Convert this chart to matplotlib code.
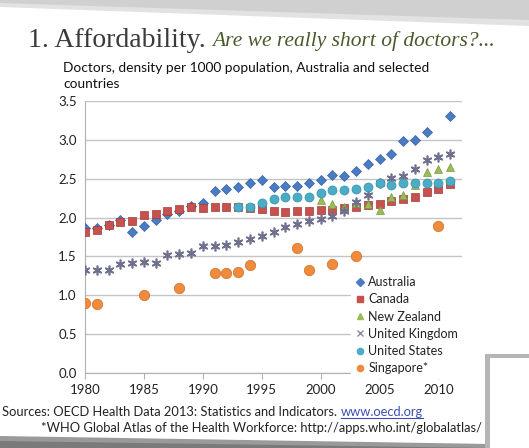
import numpy as np
import matplotlib.pyplot as plt
from matplotlib.patches import Polygon, Rectangle
from matplotlib.lines import Line2D

# Doctors per 1000 population (OECD Health Data 2013, WHO for Singapore)
years = list(range(1980, 2012))
australia = [1.86, 1.87, 1.91, 1.97, 1.82, 1.89, 1.97, 2.05, 2.08, 2.15,
             2.19, 2.34, 2.37, 2.39, 2.45, 2.48, 2.39, 2.40, 2.40, 2.44,
             2.48, 2.55, 2.54, 2.60, 2.69, 2.76, 2.82, 2.98, 3.00, 3.10,
             None, 3.31]
canada = [1.81, 1.84, 1.90, 1.94, 1.96, 2.03, 2.04, 2.09, 2.11, 2.13,
          2.12, 2.13, 2.13, 2.13, 2.12, 2.11, 2.09, 2.07, 2.08, 2.09,
          2.10, 2.10, 2.12, 2.13, 2.16, 2.18, 2.21, 2.24, 2.26, 2.33,
          2.37, 2.43]
uk = [1.32, 1.33, 1.33, 1.40, 1.41, 1.43, 1.42, 1.52, 1.53, 1.55,
      1.63, 1.63, 1.65, 1.68, 1.73, 1.76, 1.82, 1.88, 1.92, 1.95,
      1.98, 2.02, 2.08, 2.20, 2.29, 2.44, 2.51, 2.54, 2.63, 2.74,
      2.78, 2.82]

nz_years = list(range(2000, 2012))
nz = [2.22, 2.18, 2.13, 2.19, 2.18, 2.10, 2.26, 2.29, 2.42, 2.59, 2.62, 2.65]

us_years = list(range(1993, 2012))
us = [2.13, 2.14, 2.19, 2.24, 2.27, 2.26, 2.26, 2.31, 2.35, 2.36,
      2.37, 2.39, 2.44, 2.42, 2.44, 2.44, 2.44, 2.45, 2.47]

sg_years = [1980, 1981, 1985, 1988, 1991, 1992, 1993, 1994, 1998, 1999,
            2001, 2003, 2010]
singapore = [0.90, 0.89, 1.00, 1.09, 1.29, 1.29, 1.30, 1.39, 1.61, 1.32,
             1.40, 1.50, 1.89]

W, H = 529, 448
fig = plt.figure(figsize=(W / 100, H / 100), dpi=100)
sans = ['Lato', 'DejaVu Sans']
serif = ['Liberation Serif', 'DejaVu Serif']


def fx(px):
    return px / W


def fy(py):
    return 1 - py / H


# paper edges and shadows behind the slide
bg = fig.add_axes([0, 0, 1, 1], zorder=-5)
bg.set_xlim(0, W)
bg.set_ylim(H, 0)
bg.axis('off')
bg.add_patch(Polygon([(0, 0), (W, 0), (W, 26), (0, 7)], color='#e2e2e2', lw=0))
bg.add_patch(Polygon([(0, 0), (W, 0), (W, 20), (0, 3)], color='#d0d0d0', lw=0))
bg.add_patch(Polygon([(0, 436), (490, 444), (490, H), (0, H)], color='#9a9a9a', lw=0))
bg.add_patch(Polygon([(0, 441), (490, 448), (0, H)], color='#7a7a7a', lw=0))
bg.add_patch(Rectangle((485, 354), 50, 100, color='#b5b5b5', lw=0))
bg.add_patch(Rectangle((490, 358), 45, 100, color='white', lw=0))

# title
fig.text(fx(206), fy(47), '1. Affordability.', family=serif, fontsize=20,
         color='#3a3a3a', ha='right', va='baseline')
fig.text(fx(212), fy(46), 'Are we really short of doctors?...', family=serif,
         fontsize=15.5, style='italic', color='#4b5a2c', ha='left', va='baseline')
fig.text(fx(63), fy(72), 'Doctors, density per 1000 population, Australia and selected',
         family=sans, fontsize=9.9, color='#111111', ha='left', va='baseline')
fig.text(fx(63), fy(88), 'countries', family=sans, fontsize=9.9,
         color='#111111', ha='left', va='baseline')

ax = fig.add_axes([fx(85), fy(373), fx(377), 272 / H])
ax.set_facecolor('white')

def nan_list(vals):
    return np.array([np.nan if v is None else v for v in vals], dtype=float)

ax.plot(years, nan_list(australia), 'D', ms=5.5, color='#4a7cc4',
        mec='#3a62a0', mew=0.5, label='Australia', zorder=3)
ax.plot(years, canada, 's', ms=5.5, color='#c8504d', mec='#a03c3a', mew=0.5,
        label='Canada', zorder=3)
ax.plot(nz_years, nz, '^', ms=6, color='#9bbb59', mec='#7a9a40', mew=0.5,
        label='New Zealand', zorder=3)
ax.plot(years, uk, marker=(6, 2, 0), ls='none', ms=7, mew=1.2,
        color='#6f6f90', label='United Kingdom', zorder=3)
ax.plot(us_years, us, 'o', ms=6.5, color='#4bacc6', mec='#3a90a8', mew=0.5,
        label='United States', zorder=3)
ax.plot(sg_years, singapore, 'o', ms=7.5, color='#f08a3c', mec='#d07028',
        mew=0.5, label='Singapore*', zorder=3)

ax.set_xlim(1980, 2012)
ax.set_ylim(0, 3.5)
ax.set_xticks(range(1980, 2011, 5))
ax.set_yticks(np.arange(0, 3.51, 0.5))
ax.set_yticklabels([f'{v:.1f}' for v in np.arange(0, 3.51, 0.5)])
ax.grid(axis='y', color='#c4c4c4', lw=1)
ax.set_axisbelow(True)
for s in ['top', 'right']:
    ax.spines[s].set_visible(False)
for s in ['left', 'bottom']:
    ax.spines[s].set_color('#b0b0b0')
ax.tick_params(axis='x', length=4, color='#b0b0b0', pad=4)
ax.tick_params(axis='y', length=0, pad=6)
for lab in ax.get_xticklabels() + ax.get_yticklabels():
    lab.set_family(sans)
    lab.set_fontsize(9.5)
    lab.set_color('#222222')

handles = [
    Line2D([], [], marker='D', ls='none', ms=4, color='#4a7cc4'),
    Line2D([], [], marker='s', ls='none', ms=4.5, color='#c8504d'),
    Line2D([], [], marker='^', ls='none', ms=4.5, color='#9bbb59'),
    Line2D([], [], marker='x', ls='none', ms=4, mew=1, color='#8a8aa0'),
    Line2D([], [], marker='o', ls='none', ms=4.5, color='#4bacc6'),
    Line2D([], [], marker='o', ls='none', ms=4.5, color='#f08a3c'),
]
labels = ['Australia', 'Canada', 'New Zealand', 'United Kingdom',
          'United States', 'Singapore*']
leg = ax.legend(handles, labels, loc='upper left', bbox_to_anchor=(0.705, 0.37),
                borderaxespad=0, frameon=True, facecolor='white', edgecolor='white',
                framealpha=1, fancybox=False, handlelength=0.8, handletextpad=0.3,
                labelspacing=0.42, borderpad=0.3, prop={'family': sans, 'size': 9})
for t in leg.get_texts():
    t.set_color('#222222')

# sources
src = fig.text(fx(2), fy(416), 'Sources: OECD Health Data 2013: Statistics and Indicators.',
               family=sans, fontsize=9.3, color='#222222', ha='left', va='baseline')
fig.canvas.draw()
x_end = src.get_window_extent().x1 + 4
link = fig.text(x_end / W, fy(416), 'www.oecd.org', family=sans, fontsize=9.3,
                color='#3b4fb0', ha='left', va='baseline')
fig.canvas.draw()
lb = link.get_window_extent()
fig.add_artist(Line2D([lb.x0 / W, lb.x1 / W], [fy(418), fy(418)],
                      color='#3b4fb0', lw=0.8))
fig.text(fx(482), fy(432), '*WHO Global Atlas of the Health Workforce: http://apps.who.int/globalatlas/',
         family=sans, fontsize=9.3, color='#222222', ha='right', va='baseline')

fig.savefig('out.png', dpi=100)
